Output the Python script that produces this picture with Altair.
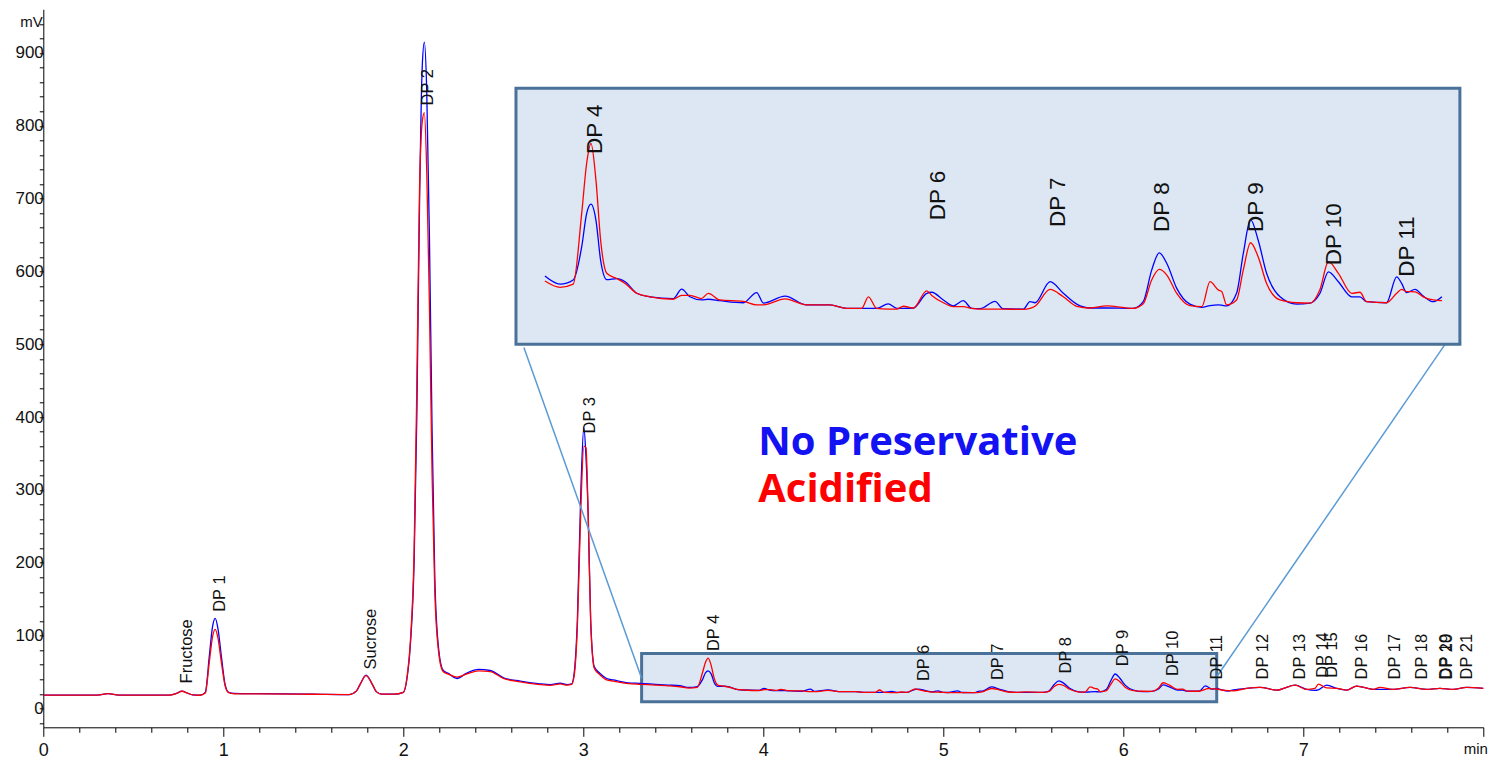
import altair as alt
import pandas as pd

# ---------------- data ----------------
time_min = [
    0.00, 0.30, 0.36, 0.42, 0.70, 0.74, 0.77, 0.80, 0.83, 0.87,
    0.90, 0.922, 0.94, 0.955, 0.97, 0.99, 1.01, 1.03, 1.06,
    1.20, 1.50, 1.70, 1.74, 1.76, 1.793, 1.83, 1.85, 1.88, 1.95,
    2.00, 2.02, 2.04, 2.06, 2.075, 2.09, 2.105, 2.117, 2.13, 2.145, 2.16, 2.175, 2.195, 2.22,
    2.25, 2.298, 2.35, 2.418, 2.483, 2.557, 2.65, 2.75, 2.817, 2.872, 2.91,
    2.935, 2.95, 2.967, 2.987, 3.003, 3.015, 3.028, 3.041, 3.061, 3.093, 3.13, 3.167, 3.25, 3.315, 3.40, 3.47,
    3.536, 3.588, 3.633, 3.662, 3.679, 3.694, 3.711, 3.727, 3.748, 3.782, 3.811, 3.851, 3.896,
    3.976, 4.005, 4.033, 4.073, 4.096, 4.136, 4.216, 4.262, 4.285, 4.359, 4.433, 4.513, 4.570,
    4.622, 4.645, 4.673, 4.713, 4.742, 4.765, 4.799, 4.845, 4.862, 4.902, 4.936, 4.970, 4.999,
    5.028, 5.079, 5.107, 5.176, 5.199, 5.216, 5.268, 5.313, 5.359, 5.405, 5.462, 5.553, 5.587,
    5.616, 5.642, 5.668, 5.702, 5.747, 5.788, 5.816, 5.845, 5.856, 5.873, 5.907, 5.930, 5.955,
    5.981, 6.010, 6.056, 6.113, 6.159, 6.193, 6.222, 6.256, 6.302, 6.330, 6.353, 6.421, 6.456,
    6.473, 6.490, 6.519, 6.547, 6.582, 6.611,
    6.685, 6.759, 6.852, 6.954, 7.019, 7.065, 7.083, 7.130, 7.185, 7.241, 7.296, 7.389, 7.426,
    7.500, 7.593, 7.685, 7.759, 7.833, 7.907, 8.000,
]
no_preservative = [
    18.3, 18.3, 20.2, 18.3, 18.3, 20.5, 23.7, 21.0, 18.5, 18.0,
    22.0, 71.0, 112.0, 123.6, 110.0, 70.0, 33.0, 22.0, 20.6,
    20.2, 19.6, 19.0, 24.0, 33.0, 45.7, 32.0, 23.0, 19.5, 19.5,
    22, 40, 90, 200, 400, 690, 880, 915, 850, 650, 380, 180, 85, 53,
    48, 41, 48, 53.5, 52, 42, 37.5, 34, 32.5, 34.5, 32.5,
    33.5, 50, 121, 304, 386, 345, 258, 121, 57, 48, 41, 39, 35, 34.3, 33, 32,
    31.1, 28.8, 30.0, 39.4, 48.9, 51.6, 47.0, 35.6, 30.1, 30.4, 29.5, 26.2, 25.2,
    24.7, 27.4, 25.2, 24.3, 24.5, 24.1, 23.5, 26.4, 23.4, 25.4, 22.9, 22.9, 21.9,
    21.9, 21.9, 21.9, 23.2, 21.9, 21.9, 22.0, 26.2, 26.5, 24.3, 22.6, 24.1, 21.9,
    21.8, 23.9, 21.8, 21.7, 23.8, 23.5, 29.5, 26.2, 23.1, 22.0, 22.0, 21.9, 23.8,
    32.8, 37.7, 34.7, 27.6, 23.1, 22.2, 22.7, 22.9, 22.8, 22.6, 26.2, 37.5, 47.2,
    41.4, 31.9, 25.2, 23.1, 23.4, 26.2, 32.3, 29.5, 25.2, 25.2, 23.8, 23.5, 30.9,
    29.0, 26.4, 27.3, 25.4, 23.8, 25.2,
    27.5, 28.8, 25.1, 32.0, 26.1, 24.8, 25.5, 32.0, 27.5, 25.1, 30.6, 26.1, 26.1,
    26.1, 28.8, 26.1, 27.5, 26.1, 28.8, 27.5,
]
acidified = [
    18.3, 18.3, 20.2, 18.3, 18.3, 20.5, 23.5, 21.0, 18.5, 18.0,
    21.0, 63.0, 98.0, 108.5, 97.0, 62.0, 31.0, 21.5, 20.0,
    20.0, 19.4, 19.0, 24.0, 33.0, 45.0, 32.0, 23.0, 19.5, 19.5,
    22, 42, 95, 215, 440, 710, 805, 818, 740, 555, 320, 160, 80, 51,
    47, 43, 47, 51.5, 50.5, 41, 36.5, 33, 31.5, 33.5, 32,
    33, 46, 112, 280, 360, 358, 255, 118, 55, 46, 39, 37.5, 34, 33, 32, 31,
    29.7, 27.9, 28.8, 48.9, 63.2, 68.9, 58.4, 41.3, 31.9, 30.4, 29.0, 26.2, 25.2,
    24.5, 25.6, 25.6, 24.7, 26.2, 24.3, 23.9, 22.9, 22.9, 24.6, 22.9, 22.9, 21.9,
    21.9, 25.2, 21.9, 21.7, 21.7, 22.5, 22.0, 26.9, 25.6, 23.5, 22.4, 22.4, 21.9,
    21.7, 21.7, 21.7, 21.6, 21.9, 22.5, 27.3, 25.2, 22.5, 22.0, 22.6, 21.9, 23.2,
    30.0, 33.0, 31.4, 26.2, 22.7, 22.4, 29.5, 27.1, 26.7, 22.9, 24.3, 32.8, 40.6,
    36.6, 29.0, 24.3, 23.5, 23.4, 27.3, 35.2, 31.9, 26.2, 26.5, 23.8, 23.5, 26.2,
    27.3, 26.7, 26.6, 25.2, 24.3, 24.1,
    27.5, 28.8, 25.1, 32.0, 26.1, 27.5, 33.4, 28.0, 27.5, 25.1, 30.6, 26.1, 28.8,
    26.1, 28.8, 26.1, 27.5, 26.1, 28.8, 27.5,
]

# peak annotations (retention time, height of label start in mV)
peak_names = ["Fructose", "DP 1", "Sucrose", "DP 2", "DP 3", "DP 4", "DP 6", "DP 7",
              "DP 8", "DP 9", "DP 10", "DP 11", "DP 12", "DP 13", "DP 14", "DP 15",
              "DP 16", "DP 17", "DP 18", "DP 19", "DP 20", "DP 21"]
peak_times = [0.797, 0.982, 1.819, 2.139, 3.037, 3.724, 4.894, 5.306,
              5.680, 5.997, 6.274, 6.519, 6.778, 6.981, 7.111, 7.158,
              7.324, 7.509, 7.657, 7.793, 7.799, 7.907]
peak_label_mv = [34.3, 132.6, 53.5, 828, 377.5, 78.7, 37.5, 38.9,
                 48.0, 58.0, 44.3, 39.8, 39.8, 39.8, 42.0, 42.0,
                 39.8, 39.8, 39.8, 39.8, 39.8, 39.8]

inset_names = ["DP 4", "DP 6", "DP 7", "DP 8", "DP 9", "DP 10", "DP 11"]
inset_times = [3.708, 4.885, 5.296, 5.650, 5.974, 6.241, 6.490]
inset_label_mv = [65.9, 47.0, 45.1, 43.7, 43.7, 34.2, 30.9]

legend_names = ["No Preservative", "Acidified"]

# ---------------- geometry of the zoom inset ----------------
ZOOM_T = (3.324, 6.519)      # highlighted window on the main trace
ZOOM_MV = (9.1, 75.5)
INSET_T = (2.626, 7.870)     # inset panel, in main-axis units
INSET_MV = (500.1, 851.6)
INSET_RANGE = (3.53, 6.615)  # part of the trace shown in the inset
SRC_T0, DST_T0, T_MAG = 3.694, 3.0428, 1.6206
SRC_M0, DST_M0, M_MAG = 68.9, 775.7, 4.817
CONNECT = [(2.67, 495.6, 3.324, 41.2), (7.797, 503.3, 6.519, 43.4)]

BLUE = "#0000ff"
RED = "#ff0000"
BOX_FILL = "#dce7f3"
BOX_STROKE = "#4a7299"
LINK = "#5b9bd5"
FONT = "Liberation Sans"

df = pd.DataFrame({"t": time_min, "blue": no_preservative, "red": acidified})
labels_df = pd.DataFrame({"name": peak_names, "t": peak_times, "mv": peak_label_mv})
inset_labels_df = pd.DataFrame({"name": inset_names, "t": inset_times, "mv": inset_label_mv})
legend_df = pd.DataFrame({"name": legend_names, "t": [3.972, 3.972], "mv": [347.8, 283.6],
                          "col": ["#1212f2", "#ff0000"]})
boxes_df = pd.DataFrame({"t0": [ZOOM_T[0]], "t1": [ZOOM_T[1]], "m0": [ZOOM_MV[0]], "m1": [ZOOM_MV[1]]})
inset_box_df = pd.DataFrame({"t0": [INSET_T[0]], "t1": [INSET_T[1]], "m0": [INSET_MV[0]], "m1": [INSET_MV[1]]})
links_df = pd.DataFrame(CONNECT, columns=["ta", "ma", "tb", "mb"])

xs = alt.Scale(domain=[0, 8], nice=False, zero=False)
ys = alt.Scale(domain=[-26, 960], nice=False, zero=False)

is_int = "abs(datum.value - round(datum.value)) < 0.001"
is_end = "datum.value > 7.99"
x_axis = alt.Axis(
    values=[round(i * 0.2, 1) for i in range(41)],
    labelExpr=f"{is_end} ? 'min' : ({is_int} ? format(datum.value, 'd') : '')",
    tickSize={"condition": {"test": is_int, "value": 9}, "value": 5},
    labelPadding=5, labelFont=FONT, labelColor="#111",
    labelFontSize={"condition": {"test": is_end, "value": 15}, "value": 18},
    labelOffset={"condition": {"test": is_end, "value": -8}, "value": 0},
    domainColor="#000", tickColor="#000", labelFlush=False, labelOverlap=False,
    grid=False, title=None,
)
y_axis = alt.Axis(
    values=list(range(-20, 960, 20)),
    labelExpr="datum.value % 100 == 0 ? format(datum.value, 'd') : ''",
    tickSize=4, labelPadding=-4, labelFontSize=17, labelFont=FONT, labelColor="#111",
    domainColor="#000", tickColor="#000", labelOverlap=False, labelFlush=False,
    grid=False, title="mV", titleAngle=0, titleAlign="right", titleBaseline="middle",
    titleX=-1, titleY=12, titleFontSize=15, titleFont=FONT, titleFontWeight="normal",
    titleColor="#111",
)


def X(field):
    return alt.X(field, scale=xs, axis=x_axis)


def Y(field):
    return alt.Y(field, scale=ys, axis=y_axis)


base = alt.Chart(df)

zoom_box = alt.Chart(boxes_df).mark_rect(fill=BOX_FILL, stroke=BOX_STROKE, strokeWidth=3).encode(
    x=X("t0:Q"), x2="t1:Q", y=Y("m0:Q"), y2="m1:Q")


def trace(field, color):
    return base.mark_line(color=color, strokeWidth=1.3, interpolate="monotone").encode(
        x=X("t:Q"), y=Y(f"{field}:Q"))


def inset_trace(field, color):
    return base.transform_filter(
        f"datum.t >= {INSET_RANGE[0]} && datum.t <= {INSET_RANGE[1]}"
    ).transform_calculate(
        ti=f"{DST_T0} + (datum.t - {SRC_T0}) * {T_MAG}",
        mi=f"{DST_M0} - ({SRC_M0} - datum.{field}) * {M_MAG}",
    ).mark_line(color=color, strokeWidth=1.3, interpolate="monotone").encode(
        x=X("ti:Q"), y=Y("mi:Q"))


links = alt.Chart(links_df).mark_rule(color=LINK, strokeWidth=1.5).encode(
    x=X("ta:Q"), y=Y("ma:Q"), x2="tb:Q", y2="mb:Q")

inset_box = alt.Chart(inset_box_df).mark_rect(fill=BOX_FILL, stroke=BOX_STROKE, strokeWidth=3).encode(
    x=X("t0:Q"), x2="t1:Q", y=Y("m0:Q"), y2="m1:Q")

peak_text = alt.Chart(labels_df).mark_text(
    angle=270, align="left", baseline="middle", font=FONT, fontSize=16.5, color="#111"
).encode(x=X("t:Q"), y=Y("mv:Q"), text="name:N")

inset_text = alt.Chart(inset_labels_df).transform_calculate(
    ti=f"{DST_T0} + (datum.t - {SRC_T0}) * {T_MAG}",
    mi=f"{DST_M0} - ({SRC_M0} - datum.mv) * {M_MAG}",
).mark_text(
    angle=270, align="left", baseline="middle", font=FONT, fontSize=22.5, color="#111"
).encode(x=X("ti:Q"), y=Y("mi:Q"), text="name:N")

legend_text = alt.Chart(legend_df).mark_text(
    align="left", baseline="alphabetic", font="Open Sans", fontWeight="bold", fontSize=40
).encode(x=X("t:Q"), y=Y("mv:Q"), text="name:N", color=alt.Color("col:N", scale=None))

chart = alt.layer(
    zoom_box,
    trace("blue", BLUE), trace("red", RED),
    links, inset_box,
    inset_trace("blue", BLUE), inset_trace("red", RED),
    peak_text, inset_text, legend_text,
).properties(
    width=1440, height=718,
    padding={"left": 35.3, "top": 1.3, "right": 4.7, "bottom": 32},
    autosize=alt.AutoSizeParams(type="none"),
    background="white",
).configure_view(stroke=None)

chart.save("out.html", embed_options={"renderer": "svg", "actions": False})
